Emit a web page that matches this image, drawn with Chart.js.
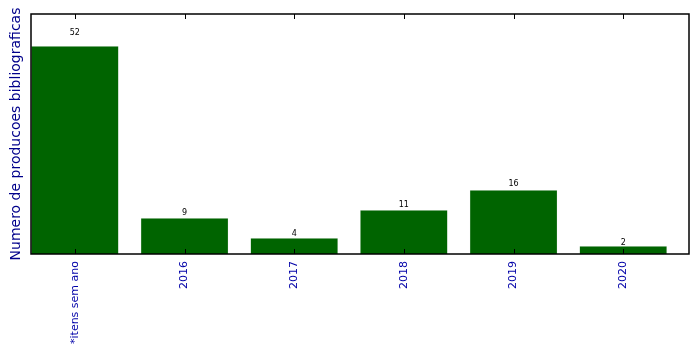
<!DOCTYPE html>
<html>
<head>
<meta charset="utf-8">
<script src="https://cdn.jsdelivr.net/npm/chart.js@4"></script>
<style>
  html, body { margin: 0; padding: 0; background: #fff; }
  #wrap { width: 699px; height: 354px; }
</style>
</head>
<body>
<div id="wrap"><canvas id="chart"></canvas></div>
<script>
// Data
const labels = ['*itens sem ano', '2016', '2017', '2018', '2019', '2020'];
const counts = [52, 9, 4, 11, 16, 2];
const positions = [0.4, 1.4, 2.4, 3.4, 4.4, 5.4]; // bar centres, matplotlib style

// frame + inward tick marks at top and bottom, matplotlib look
const framePlugin = {
    id: 'frame',
    afterDraw(chart) {
        const { ctx, chartArea: a, scales } = chart;
        ctx.save();
        ctx.strokeStyle = '#000';
        ctx.lineWidth = 1;
        positions.forEach(p => {
            const x = Math.round(scales.x.getPixelForValue(p)) + 0.5;
            ctx.beginPath();
            ctx.moveTo(x, a.bottom); ctx.lineTo(x, a.bottom - 5);
            ctx.moveTo(x, a.top); ctx.lineTo(x, a.top + 5);
            ctx.stroke();
        });
        ctx.lineWidth = 1.5;
        ctx.strokeRect(a.left, a.top, a.right - a.left, a.bottom - a.top);
        // value labels, placed at 1.05 * height like the original
        ctx.fillStyle = '#000';
        ctx.font = '8px "DejaVu Sans"';
        ctx.textAlign = 'center';
        ctx.textBaseline = 'bottom';
        counts.forEach((v, i) => {
            const x = scales.x.getPixelForValue(positions[i]);
            const y = scales.y.getPixelForValue(v * 1.05);
            ctx.fillText(String(v), x, y + 1);
        });
        ctx.restore();
    }
};

new Chart(document.getElementById('chart').getContext('2d'), {
    type: 'bar',
    data: {
        datasets: [{
            data: positions.map((p, i) => ({ x: p, y: counts[i] })),
            backgroundColor: '#006400',
            borderColor: '#e8ece8',
            borderWidth: 0.5,
            categoryPercentage: 1,
            barPercentage: 0.8
        }]
    },
    options: {
        responsive: true,
        maintainAspectRatio: false,
        animation: false,
        layout: { padding: { top: 14, right: 10, left: 0, bottom: 0 } },
        plugins: { legend: { display: false }, tooltip: { enabled: false } },
        scales: {
            x: {
                type: 'linear',
                min: 0,
                max: 6,
                offset: false,
                grid: { display: false, drawTicks: false },
                border: { display: false },
                afterBuildTicks(scale) {
                    scale.ticks = positions.map(v => ({ value: v }));
                },
                afterFit(scale) { scale.height = 100; },
                ticks: {
                    autoSkip: false,
                    minRotation: 90,
                    maxRotation: 90,
                    padding: 7,
                    color: '#0000a8',
                    font: { family: '"DejaVu Sans"', size: 11 },
                    callback: (v) => {
                        const i = positions.indexOf(v);
                        return i >= 0 ? labels[i] : '';
                    }
                }
            },
            y: {
                min: 0,
                max: 60,
                grid: { display: false, drawTicks: false },
                border: { display: false },
                ticks: { display: false },
                afterFit(scale) { scale.width = 31; },
                title: {
                    display: true,
                    text: 'Numero de producoes bibliograficas',
                    color: '#00008b',
                    font: { family: '"DejaVu Sans"', size: 14 },
                    padding: { top: 8, bottom: 0 }
                }
            }
        }
    },
    plugins: [framePlugin]
});
</script>
</body>
</html>
